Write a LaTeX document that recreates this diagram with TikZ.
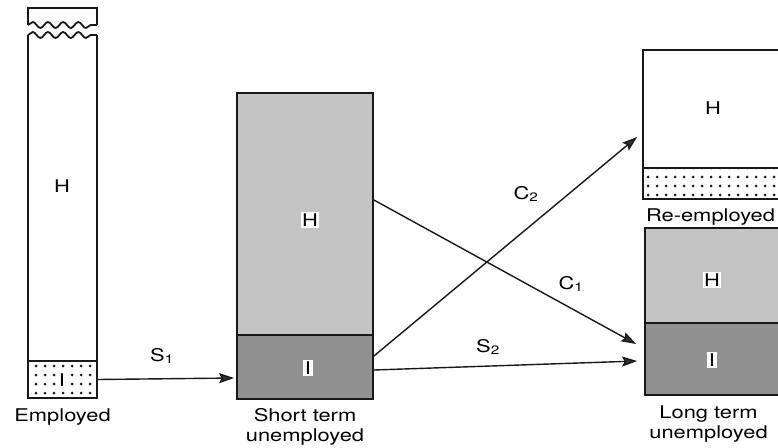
\documentclass[tikz,border=0pt]{standalone}
\usepackage{fontspec}
\setmainfont{TeX Gyre Heros}[FakeStretch=1.25]
\usetikzlibrary{arrows.meta,positioning,patterns.meta,decorations.pathmorphing}
\definecolor{stockline}{RGB}{25,25,25}
\definecolor{hfill}{RGB}{196,196,196}
\definecolor{ifill}{RGB}{145,145,145}
\definecolor{tipgray}{RGB}{50,50,50}
\tikzset{
  hpart/.style={rectangle, draw=stockline, line width=1.8pt, fill=hfill,
    inner sep=0pt},
  ipart/.style={rectangle, draw=stockline, line width=1.8pt, fill=ifill,
    inner sep=0pt},
  plainpart/.style={rectangle, draw=stockline, line width=1.8pt, fill=white,
    inner sep=0pt},
  dotpart/.style={rectangle, draw=stockline, line width=1.8pt, inner sep=0pt,
    pattern={Dots[distance=9pt, radius=1.5pt]}, pattern color=stockline},
  openpart/.style={rectangle, inner sep=0pt, outer sep=0pt},
  letter/.style={fill=white, inner sep=1.5pt, font=\fontsize{17.5}{20}\selectfont},
  caption/.style={align=center, inner sep=0pt, font=\fontsize{17.5}{20}\selectfont},
  ratelabel/.style={inner sep=0pt, font=\fontsize{17.5}{20}\selectfont},
  flow/.style={-{Stealth[length=15pt, width=10pt, inset=2.5pt, fill=tipgray]},
    line width=1.4pt, draw=stockline},
  rim/.style={draw=stockline, line width=1.8pt},
  wavy/.style={decorate, decoration={snake, segment length=15.2pt, amplitude=3pt}}
}

\begin{document}
\begin{tikzpicture}[x=1pt, y=-1pt]
  \clip (0,0) rectangle (778,447);

  % --- employed (broken column) ---
  \node[openpart, minimum width=69pt, minimum height=17pt] (emcap) at (62.5,16.5) {};
  \node[openpart, minimum width=69pt, minimum height=326pt] (emH) at (62.5,198) {};
  \node[dotpart, minimum width=69pt, minimum height=37pt, below=-0.9pt of emH] (emI) {};
  \draw[rim] (emcap.south west) -- (emcap.north west) -- (emcap.north east) -- (emcap.south east);
  \draw[rim, wavy] (emcap.south west) -- (emcap.south east);
  \draw[rim, wavy] (emH.north west) -- (emH.north east);
  \draw[rim] (emH.north west) -- (emH.south west);
  \draw[rim] (emH.north east) -- (emH.south east);
  \node[letter] (emHl) at (62,186) {H};
  \node[letter] (emIl) at (62,380) {I};
  \node[caption, below=10pt of emI] (emlab) {Employed};

  % --- short term unemployed ---
  \node[hpart, minimum width=136pt, minimum height=242pt] (stH) at (305,214) {};
  \node[ipart, minimum width=136pt, minimum height=64pt, below=-1.8pt of stH] (stI) {};
  \node[letter] (stHl) at (310,220) {H};
  \node[letter] (stIl) at (308,368) {I};
  \node[caption, below=8pt of stI] (stlab) {Short term\\unemployed};

  % --- re-employed ---
  \node[plainpart, minimum width=157pt, minimum height=118pt] (reH) at (721.5,109) {};
  \node[dotpart, minimum width=157pt, minimum height=31pt, below=-1.8pt of reH] (reI) {};
  \node[letter] (reHl) at (713,108) {H};
  \node[caption, below=9pt of reI, xshift=-11pt] (relab) {Re-employed};

  % --- long term unemployed ---
  \node[hpart, minimum width=155pt, minimum height=95pt] (ltH) at (722.5,275.5) {};
  \node[ipart, minimum width=155pt, minimum height=72pt, below=-1.8pt of ltH] (ltI) {};
  \node[letter] (ltHl) at (712,280) {H};
  \node[letter] (ltIl) at (712,360) {I};
  \node[caption, below=10pt of ltI, xshift=-14pt] (ltlab) {Long term\\unemployed};

  % --- rates ---
  \node[ratelabel] (s1lab) at (162,356) {S\textsubscript{1}};
  \node[ratelabel] (s2lab) at (488,347) {S\textsubscript{2}};
  \node[ratelabel] (c1lab) at (571,284) {C\textsubscript{1}};
  \node[ratelabel] (c2lab) at (526,194) {C\textsubscript{2}};

  % ---------------- flows ----------------
  \draw[flow] (emI.east) -- ([xshift=-2pt, yshift=-11pt]stI.west);
  \draw[flow] ([yshift=-3pt]stI.east) -- ([xshift=-7pt, yshift=-2pt]ltI.west);
  \draw[flow] ([yshift=14pt]stH.east) -- ([xshift=-8pt, yshift=15pt]ltI.west);
  \draw[flow] ([yshift=11pt]stI.east) -- ([xshift=-5pt, yshift=-28pt]reH.west);

\end{tikzpicture}
\end{document}
